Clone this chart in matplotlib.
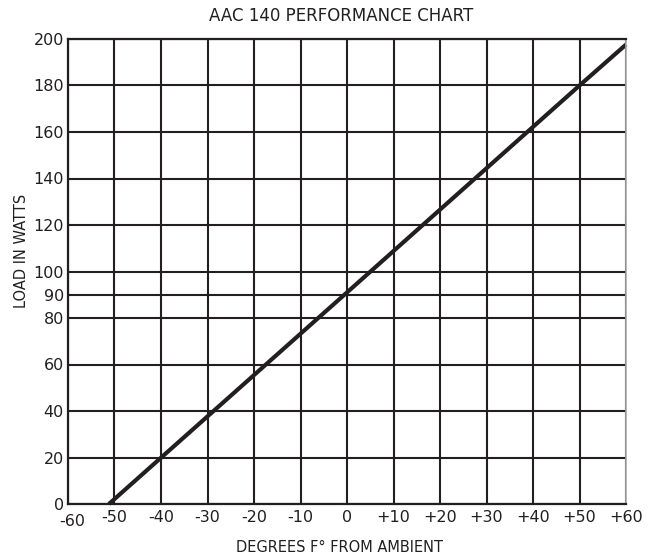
import matplotlib
matplotlib.use("Agg")
import matplotlib.pyplot as plt
import matplotlib.transforms as mtransforms

x_ticks = [-60, -50, -40, -30, -20, -10, 0, 10, 20, 30, 40, 50, 60]
x_labels = ["-60", "-50", "-40", "-30", "-20", "-10", "0", "+10", "+20", "+30", "+40", "+50", "+60"]
y_ticks = [0, 20, 40, 60, 80, 90, 100, 120, 140, 160, 180, 200]
y_labels = [str(v) for v in y_ticks]

line_x = [-51.2, 0, 50, 60]
line_y = [0, 91, 180, 197.6]

plt.rcParams['font.family'] = ['DejaVu Sans']
dark = '#231f20'

fig = plt.figure(figsize=(6.49, 5.59), dpi=100)
ax = fig.add_axes([68/649, 55/559, 558/649, 465/559])
ax.set_xlim(-60, 60)
ax.set_ylim(0, 200)
ax.set_xticks(x_ticks)
ax.set_xticklabels(x_labels)
ax.set_yticks(y_ticks)
ax.set_yticklabels(y_labels)
ax.grid(True, color=dark, linewidth=1.5)
ax.set_axisbelow(True)
ax.tick_params(axis='x', length=0, labelsize=11.5, colors=dark, pad=4)
ax.tick_params(axis='y', length=0, labelsize=11.5, colors=dark, pad=3)
for s in ['left', 'top', 'bottom']:
    ax.spines[s].set_color(dark)
    ax.spines[s].set_linewidth(1.6)
ax.spines['right'].set_color('#aaaaaa')
ax.spines['right'].set_linewidth(1.2)

# shift the first x label down/right as in the reference
first = ax.get_xticklabels()[0]
first.set_transform(first.get_transform() + mtransforms.ScaledTranslation(4/100, -4/100, fig.dpi_scale_trans))

ax.plot(line_x, line_y, color=dark, linewidth=3, solid_capstyle='butt', clip_on=False)

fig.text(341/649, 1 - 16/559, "AAC 140 PERFORMANCE CHART", ha='center', va='center', fontsize=12, color=dark)
fig.text(340/649, 1 - 548/559, "DEGREES F° FROM AMBIENT", ha='center', va='center', fontsize=10.5, color=dark)
fig.text(22/649, 1 - 251/559, "LOAD IN WATTS", ha='center', va='center', rotation=90, fontsize=10.5, color=dark)

fig.savefig("out.png", dpi=100, facecolor='white')
